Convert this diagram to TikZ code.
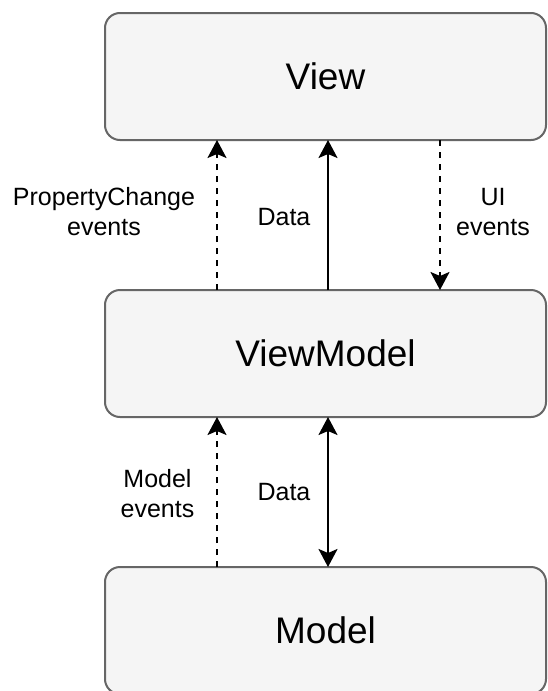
\documentclass[tikz,border=0pt]{standalone}
\usepackage{fontspec}
\setmainfont{Liberation Sans}
\usetikzlibrary{arrows.meta}
\definecolor{boxfill}{HTML}{F5F5F5}
\definecolor{boxline}{HTML}{666666}
\tikzset{
  layer/.style={draw=boxline, fill=boxfill, line width=2pt, rounded corners=15pt,
    minimum width=441pt, minimum height=127pt, inner sep=0pt, outer sep=0pt,
    font=\fontsize{37}{44}\selectfont},
  lbl/.style={align=center, inner sep=0pt, font=\fontsize{25}{30}\selectfont},
  conn/.style={line width=2pt, -{Stealth[length=18pt,width=19pt,inset=4pt]}},
  dconn/.style={conn, dash pattern=on 6pt off 6pt},
  bconn/.style={line width=2pt, {Stealth[length=18pt,width=19pt,inset=4pt]}-{Stealth[length=18pt,width=19pt,inset=4pt]}}
}
\begin{document}
\begin{tikzpicture}[x=1pt,y=-1pt]
\useasboundingbox[fill=white] (0,0) rectangle (547,691);
\begin{scope}
\clip (0,0) rectangle (547,691);
\node[layer] (view) at (325.5,76.5) {View};
\node[layer] (vm) at (325.5,353.5) {ViewModel};
\node[layer] (model) at (325.5,630.5) {Model};

\draw[dconn] ([xshift=112pt]vm.north west) -- ([xshift=112pt]view.south west);
\draw[conn] ([xshift=223pt]vm.north west) -- ([xshift=223pt]view.south west);
\draw[dconn] ([xshift=335pt]view.south west) -- ([xshift=335pt]vm.north west);

\draw[dconn] ([xshift=112pt]model.north west) -- ([xshift=112pt]vm.south west);
\draw[bconn] ([xshift=223pt]model.north west) -- ([xshift=223pt]vm.south west);

\node[lbl] (pc) at (104,212) {PropertyChange\\events};
\node[lbl] (d1) at (284,217.5) {Data};
\node[lbl] (ui) at (493,212) {UI\\events};
\node[lbl] (me) at (157.5,494) {Model\\events};
\node[lbl] (d2) at (284,492) {Data};
\end{scope}
\end{tikzpicture}
\end{document}
